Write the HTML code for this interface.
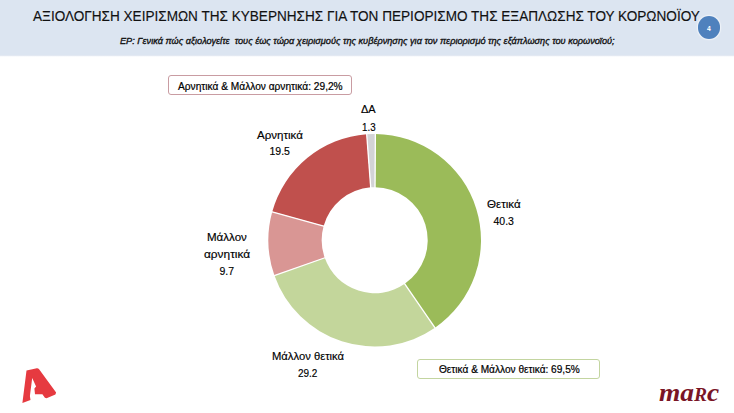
<!DOCTYPE html>
<html><head><meta charset="utf-8">
<style>
html,body{margin:0;padding:0;}
body{width:734px;height:413px;position:relative;overflow:hidden;background:#fff;font-family:"Liberation Sans",sans-serif;color:#000;}
.hdr{position:absolute;left:0;top:0;width:734px;height:57px;background:linear-gradient(#dce5f1 0,#dce5f1 54.6px,#e4e9f2 55.6px,#fbfcfe 56.6px,#fff 57px);}
.t{position:absolute;white-space:nowrap;line-height:1;}
#title{left:33px;top:8.2px;font-size:15px;color:#111;transform-origin:0 0;transform:scaleX(0.905);-webkit-text-stroke:0.15px #111;}
#sub{left:119.5px;top:36px;font-size:9.4px;font-style:italic;color:#111;transform-origin:0 0;transform:scaleX(0.979);-webkit-text-stroke:0.35px #111;}
.badge{position:absolute;left:697.5px;top:16.2px;width:22.6px;height:22.6px;border-radius:50%;background:#4f81bd;box-shadow:0 0 0 1.2px rgba(255,255,255,.35),0 0 2px 1px rgba(255,255,255,.3);color:#fff;font-size:6.8px;font-weight:bold;text-align:center;line-height:25px;}
.lbl{position:absolute;white-space:nowrap;line-height:1;font-size:10.5px;color:#000;transform-origin:0 0;-webkit-text-stroke:0.15px #000;}
.box{position:absolute;border-radius:3px;background:#fff;}
#boxneg{left:168px;top:75px;width:181.5px;height:17.8px;border:1.2px solid #c99ca2;}
#boxpos{left:417px;top:359px;width:181.2px;height:17.6px;border:1.4px solid #c3d5a0;}
.bt{position:absolute;white-space:nowrap;line-height:1;font-size:10px;transform-origin:0 0;-webkit-text-stroke:0.2px #000;}
</style></head>
<body>
<div class="hdr"></div>
<div class="t" id="title">ΑΞΙΟΛΟΓΗΣΗ ΧΕΙΡΙΣΜΩΝ ΤΗΣ ΚΥΒΕΡΝΗΣΗΣ ΓΙΑ ΤΟΝ ΠΕΡΙΟΡΙΣΜΟ ΤΗΣ ΕΞΑΠΛΩΣΗΣ ΤΟΥ ΚΟΡΩΝΟΪΟΥ</div>
<div class="t" id="sub">ΕΡ: Γενικά πώς αξιολογείτε &nbsp;τους έως τώρα χειρισμούς της κυβέρνησης για τον περιορισμό της εξάπλωσης του κορωνοϊού;</div>
<div class="badge">4</div>

<svg style="position:absolute;left:0;top:0" width="734" height="413" viewBox="0 0 734 413">
<path d="M375.37,133.90A106.3,106.3 0 0 1 435.00,327.74L404.77,283.85A53.0,53.0 0 0 0 375.03,187.20Z" fill="#9bbb59"/>
<path d="M435.00,327.74A106.3,106.3 0 0 1 274.46,275.58L324.72,257.84A53.0,53.0 0 0 0 404.77,283.85Z" fill="#c3d69b"/>
<path d="M274.46,275.58A106.3,106.3 0 0 1 272.26,211.83L323.62,226.05A53.0,53.0 0 0 0 324.72,257.84Z" fill="#d99694"/>
<path d="M272.26,211.83A106.3,106.3 0 0 1 366.69,134.20L370.71,187.35A53.0,53.0 0 0 0 323.62,226.05Z" fill="#c0504d"/>
<path d="M366.69,134.20A106.3,106.3 0 0 1 375.37,133.90L375.03,187.20A53.0,53.0 0 0 0 370.71,187.35Z" fill="#d3d3d6"/>
<g stroke="#fff" stroke-width="1.3"><line x1="375.03" y1="188.20" x2="375.37" y2="132.90"/><line x1="404.20" y1="283.02" x2="435.57" y2="328.57"/><line x1="325.66" y1="257.51" x2="273.52" y2="275.91"/><line x1="324.59" y1="226.32" x2="271.29" y2="211.56"/><line x1="370.78" y1="188.35" x2="366.62" y2="133.20"/></g>
<!-- Alpha logo -->
<path d="M22.4,403 L26.5,370.4 L36.8,368.2 Q38.3,368.1 39.1,369.3 L56.1,392.5 L55.4,394.4 L46.6,398.2 L44.9,397.7 L42.4,394.2 L35,394.3 L34.4,388.6 L36.1,386.5 L32.2,378 L29.9,396 L30.5,400.1 Z" fill="#e63a40"/>
</svg>

<div class="box" id="boxneg"></div>
<div class="bt" id="tneg" style="left:178px;top:82px;transform:scaleX(1.016);">Αρνητικά &amp; Μάλλον αρνητικά: 29,2%</div>
<div class="box" id="boxpos"></div>
<div class="bt" id="tpos" style="left:438.5px;top:364.8px;transform:scaleX(1.01);">Θετικά &amp; Μάλλον θετικά: 69,5%</div>

<div class="lbl" id="l_da1" style="left:361px;top:104.4px;transform:scaleX(1.05);">ΔΑ</div>
<div class="lbl" id="l_da2" style="left:361.6px;top:121.5px;transform:scaleX(0.93);">1.3</div>
<div class="lbl" id="l_ar1" style="left:257px;top:129.5px;transform:scaleX(1.1);">Αρνητικά</div>
<div class="lbl" id="l_ar2" style="left:269.5px;top:146.2px;transform:scaleX(1.0);">19.5</div>
<div class="lbl" id="l_th1" style="left:486.5px;top:199.2px;transform:scaleX(1.10);">Θετικά</div>
<div class="lbl" id="l_th2" style="left:493.5px;top:216px;transform:scaleX(1.0);">40.3</div>
<div class="lbl" id="l_ma1" style="left:207px;top:232.4px;transform:scaleX(1.1);">Μάλλον</div>
<div class="lbl" id="l_ma2" style="left:203.5px;top:249px;transform:scaleX(1.13);">αρνητικά</div>
<div class="lbl" id="l_ma3" style="left:219.5px;top:266px;transform:scaleX(1.0);">9.7</div>
<div class="lbl" id="l_mt1" style="left:271.7px;top:351.3px;transform:scaleX(1.07);">Μάλλον θετικά</div>
<div class="lbl" id="l_mt2" style="left:298px;top:368.4px;transform:scaleX(0.95);">29.2</div>

<div class="t" id="marc" style="left:659.3px;top:380.4px;font-family:'Liberation Serif',serif;font-weight:bold;font-style:italic;font-size:26px;color:#7a1526;transform-origin:0 0;transform:scaleX(1.055);">ma<span style="font-size:18.5px">R</span>c</div>
</body></html>
